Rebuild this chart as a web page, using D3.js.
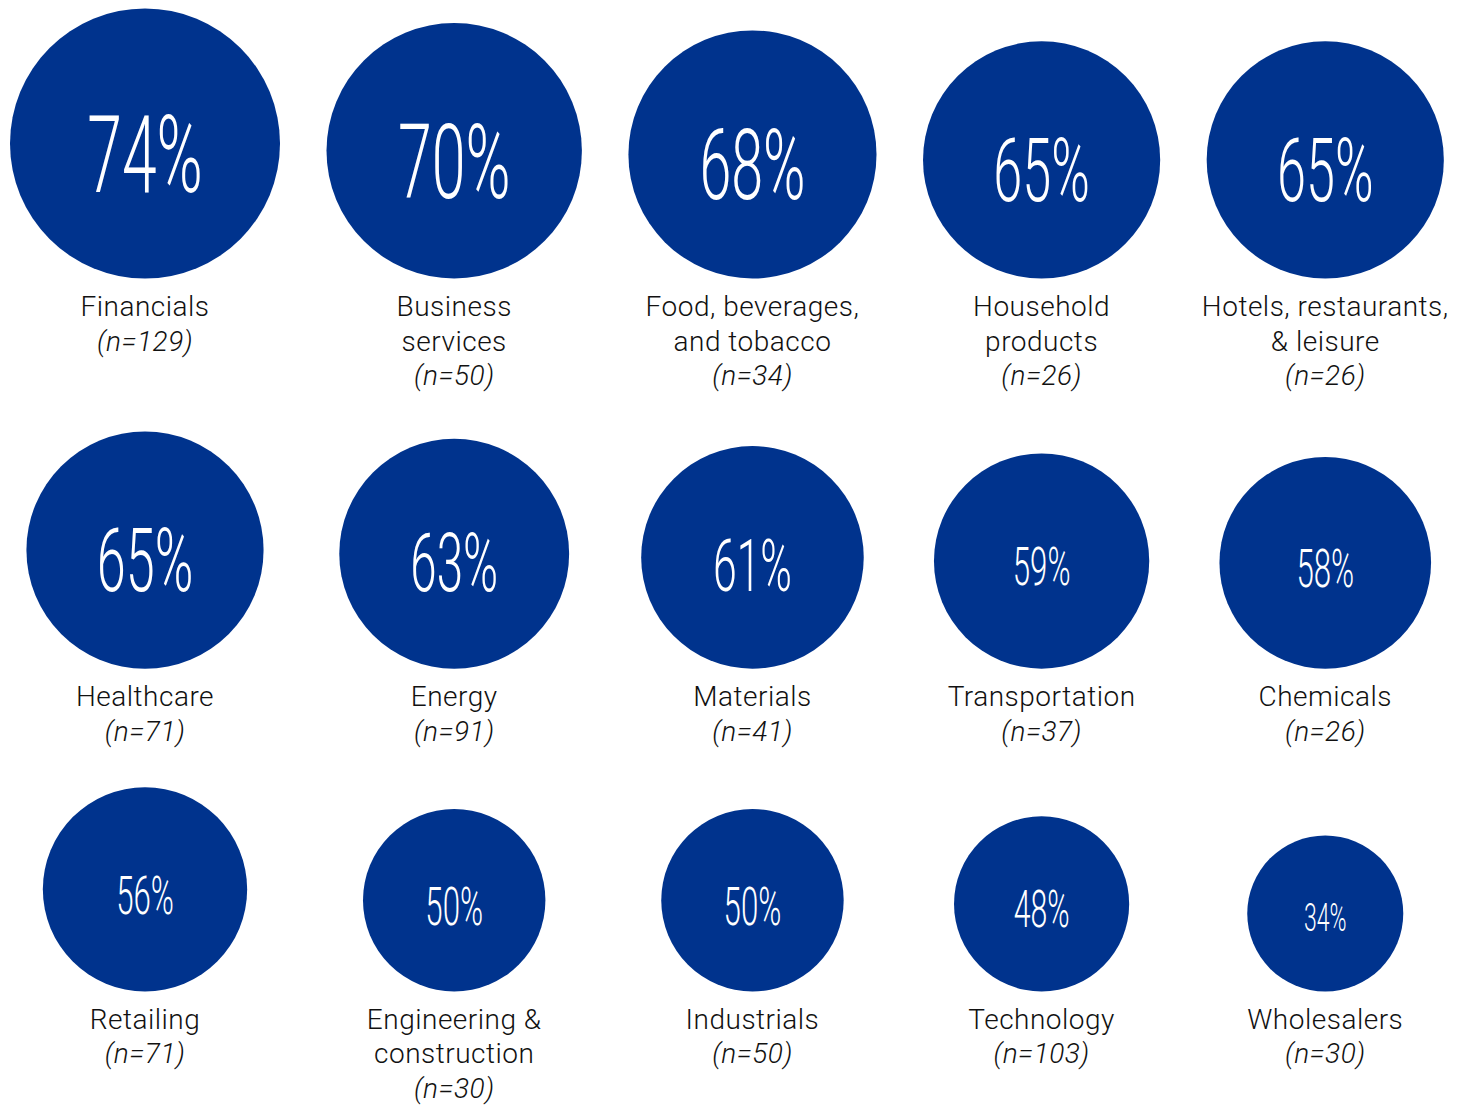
<!DOCTYPE html>
<html>
<head>
<meta charset="utf-8">
<script src="https://cdn.jsdelivr.net/npm/d3@7"></script>
<style>
  html, body { margin: 0; padding: 0; background: #fff; }
  svg { display: block; }
</style>
</head>
<body>
<svg id="chart" width="1471" height="1105"></svg>
<script>
// ---- data ----
const categories = [
  ["Financials"], ["Business", "services"], ["Food, beverages,", "and tobacco"], ["Household", "products"], ["Hotels, restaurants,", "& leisure"],
  ["Healthcare"], ["Energy"], ["Materials"], ["Transportation"], ["Chemicals"],
  ["Retailing"], ["Engineering &", "construction"], ["Industrials"], ["Technology"], ["Wholesalers"]
];
const values = [74, 70, 68, 65, 65, 65, 63, 61, 59, 58, 56, 50, 50, 48, 34];
const sampleSizes = [129, 50, 34, 26, 26, 71, 91, 41, 37, 26, 71, 30, 50, 103, 30];

// ---- layout / style ----
const perRow = 5;
const fill = "#00338d";
const textColor = "#111111";
const gapX = 46.5, leftEdge = 10, topEdge = 8.5;
const labelFirst = 37.5, lineH = 34.5, rowGap = 46.5;
const minR = 78;
const labelFont = 28;

const rScale = d3.scaleLinear().domain([0, 74]).range([0, 135]);
const radius = v => Math.max(rScale(v), minR);
// cap height of the percentage figures
const capScale = d3.scaleLinear()
  .domain([34, 50, 59, 61, 65, 70, 74])
  .range([28, 38, 38, 52, 63.5, 74, 76]);

const items = values.map((v, i) => ({
  v, n: sampleSizes[i], lines: categories[i],
  row: Math.floor(i / perRow), col: i % perRow, r: radius(v)
}));

// column centres: derived from first row packing
const firstRow = items.filter(d => d.row === 0);
const colX = [];
let cursorX = leftEdge;
firstRow.forEach((d, i) => {
  if (i > 0) cursorX += gapX;
  colX.push(cursorX + d.r);
  cursorX += 2 * d.r;
});

// row bottoms
const nRows = Math.ceil(items.length / perRow);
const rowBottom = [];
let cursorY = topEdge;
for (let r = 0; r < nRows; r++) {
  const rowItems = items.filter(d => d.row === r);
  const maxR = d3.max(rowItems, d => d.r);
  const maxLines = d3.max(rowItems, d => d.lines.length + 1);
  const bottom = cursorY + 2 * maxR;
  rowBottom.push(bottom);
  cursorY = bottom + labelFirst + lineH * (maxLines - 1) + rowGap;
}

const svg = d3.select("#chart");
const g = svg.selectAll("g.item").data(items).join("g")
  .attr("class", "item")
  .attr("transform", d => `translate(${colX[d.col]},${rowBottom[d.row]})`);

g.append("circle")
  .attr("cx", 0)
  .attr("cy", d => -d.r)
  .attr("r", d => d.r)
  .attr("fill", fill);

// percentage figures (condensed light)
g.each(function(d) {
  const cap = capScale(d.v);
  const fs = cap / 0.711;
  const cy = -d.r;
  const t = d3.select(this).append("text")
    .attr("text-anchor", "middle")
    .attr("font-family", "Roboto, 'DejaVu Sans', sans-serif")
    .attr("font-weight", 300)
    .attr("font-size", fs)
    .attr("fill", "#fff")
    .text(d.v + "%");
  const bb = t.node().getBBox();
  const targetW = cap * 1.52;
  const sx = targetW / bb.width;
  t.attr("transform", `translate(0,${cy + cap * 0.64}) scale(${sx},1)`);
});

// labels
g.each(function(d) {
  const sel = d3.select(this);
  const lines = d.lines.map(s => ({ s, italic: false })).concat([{ s: `(n=${d.n})`, italic: true }]);
  sel.selectAll("text.lbl").data(lines).join("text")
    .attr("class", "lbl")
    .attr("text-anchor", "middle")
    .attr("x", 0)
    .attr("y", (l, i) => labelFirst + i * lineH)
    .attr("font-family", "Roboto, 'Liberation Sans', sans-serif")
    .attr("font-weight", 300)
    .attr("font-style", l => l.italic ? "italic" : "normal")
    .attr("font-size", labelFont)
    .attr("letter-spacing", 0.5)
    .attr("fill", textColor)
    .text(l => l.s);
});
</script>
</body>
</html>
